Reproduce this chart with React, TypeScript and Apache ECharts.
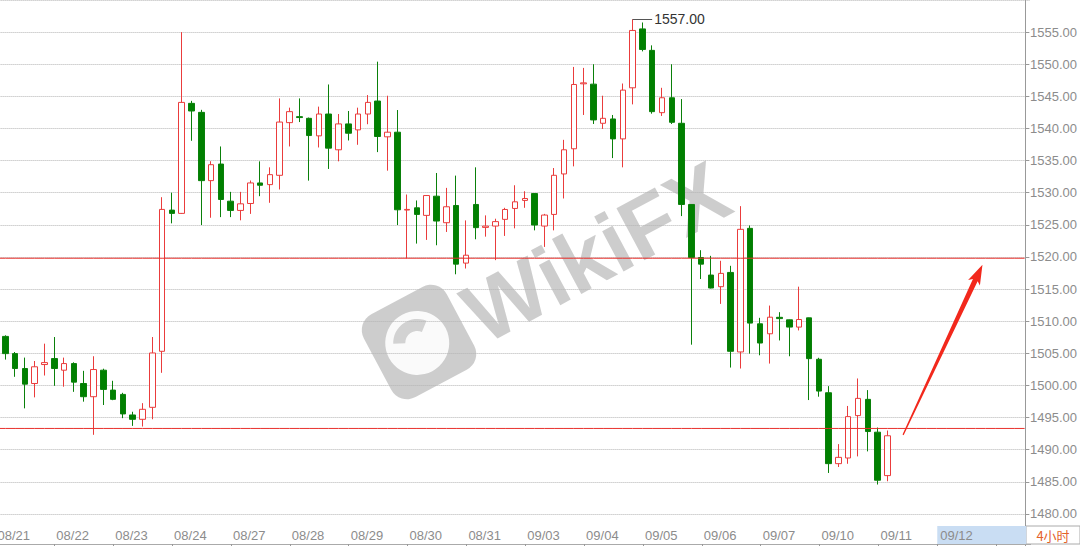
import React, { useEffect, useRef } from "react";
import * as echarts from "echarts";

// ---------- data ----------
const days = [
  "08/21", "08/22", "08/23", "08/24", "08/27", "08/28", "08/29", "08/30", "08/31",
  "09/03", "09/04", "09/05", "09/06", "09/07", "09/10", "09/11", "09/12", "09/13",
];
const slotHours = ["00", "04", "08", "12", "16", "20"];
const SLOT_COUNT = 106; // 4h slots on the axis
const FIRST_CANDLE_SLOT = 1; // first 08/21 slot is off-screen
const hiddenDayLabels = ["09/13"];
const futureDay = "09/12";

const opens = [
  1507.63, 1504.95, 1502.63, 1500.3, 1503.25, 1504.18, 1502.37, 1503.4, 1500.3, 1498.24,
  1502.37, 1499.27, 1498.6, 1495.4, 1494.72, 1496.59, 1505.31, 1527.29, 1526.78, 1543.91,
  1542.51, 1531.88, 1534.46, 1528.68, 1527.24, 1528.32, 1531.52, 1531.26, 1532.71, 1540.91,
  1541.84, 1541.58, 1538.85, 1542.25, 1536.68, 1540.71, 1539.78, 1542.25, 1544.27, 1538.7,
  1539.42, 1527.3, 1527.65, 1526.47, 1529.46, 1525.33, 1528.01, 1519.04, 1528.17, 1524.6,
  1524.81, 1525.85, 1527.55, 1528.8, 1529.87, 1524.81, 1526.62, 1532.92, 1536.84, 1546.95,
  1546.9, 1540.81, 1541.48, 1538.38, 1546.33, 1555.5, 1552.16, 1542.46, 1544.78, 1540.81,
  1528.17, 1519.91, 1517.18, 1515.37, 1517.59, 1505.21, 1524.45, 1509.59, 1508.04, 1510.6,
  1510.21, 1509.08, 1510.52, 1504.07, 1498.86, 1487.82, 1488.7, 1495.3, 1497.83, 1492.72,
  1485.96,
];
const closes = [
  1504.95, 1502.63, 1500.2, 1502.9, 1503.55, 1502.63, 1503.4, 1500.51, 1498.24, 1502.47,
  1499.38, 1497.83, 1495.56, 1494.72, 1496.28, 1505.05, 1527.4, 1526.78, 1544.06, 1542.72,
  1531.88, 1534.36, 1528.94, 1527.24, 1528.27, 1531.52, 1531.16, 1532.81, 1541.0, 1542.62,
  1541.7, 1538.9, 1542.25, 1536.94, 1540.71, 1539.26, 1542.25, 1544.06, 1538.75, 1539.42,
  1527.34, 1527.4, 1526.62, 1529.56, 1525.59, 1527.81, 1518.88, 1520.27, 1524.56, 1524.8,
  1525.5, 1527.39, 1528.58, 1529.1, 1524.97, 1526.52, 1532.71, 1536.68, 1546.85, 1547.1,
  1541.33, 1541.58, 1538.38, 1545.97, 1555.26, 1552.3, 1542.62, 1544.78, 1540.96, 1528.17,
  1519.91, 1518.88, 1515.16, 1517.44, 1505.31, 1524.3, 1509.7, 1506.6, 1510.62, 1510.4,
  1509.08, 1510.26, 1504.17, 1499.12, 1487.82, 1488.8, 1495.14, 1497.98, 1492.82, 1485.24,
  1492.16,
];
const lows = [
  1504.02, 1501.34, 1496.43, 1498.14, 1501.54, 1499.94, 1499.8, 1499.0, 1497.47, 1492.31,
  1496.95, 1497.7, 1494.9, 1493.7, 1493.6, 1494.73, 1501.96, 1525.23, 1526.7, 1538.08,
  1524.97, 1526.1, 1526.2, 1526.2, 1525.7, 1526.7, 1529.46, 1528.43, 1530.5, 1537.2,
  1541.0, 1531.88, 1537.04, 1533.7, 1534.88, 1538.13, 1537.46, 1540.66, 1536.32, 1533.43,
  1524.97, 1519.76, 1522.08, 1522.65, 1521.82, 1523.89, 1517.3, 1518.2, 1522.75, 1523.16,
  1519.5, 1523.27, 1524.45, 1527.65, 1524.14, 1521.56, 1524.14, 1529.1, 1534.1, 1542.1,
  1540.7, 1539.93, 1535.39, 1533.95, 1543.75, 1552.0, 1542.3, 1541.95, 1540.7, 1526.36,
  1506.34, 1516.56, 1515.1, 1512.69, 1502.78, 1502.63, 1504.95, 1504.69, 1503.4, 1507.0,
  1504.54, 1508.56, 1497.72, 1498.24, 1486.37, 1487.3, 1487.8, 1488.95, 1489.73, 1484.57,
  1485.08,
];
const highs = [
  1507.8, 1505.2, 1504.33, 1503.8, 1506.5, 1507.53, 1504.33, 1503.6, 1502.27, 1504.54,
  1502.6, 1500.72, 1498.85, 1495.9, 1497.24, 1507.53, 1529.3, 1530.0, 1555.0, 1544.3,
  1542.9, 1534.9, 1537.2, 1530.13, 1530.13, 1531.9, 1534.88, 1533.95, 1544.68, 1543.24,
  1544.68, 1541.7, 1543.4, 1546.85, 1542.25, 1542.72, 1543.24, 1545.2, 1550.4, 1545.1,
  1542.87, 1529.72, 1528.79, 1529.6, 1533.07, 1530.75, 1532.66, 1525.69, 1533.95, 1526.47,
  1525.95, 1527.65, 1531.16, 1530.23, 1529.9, 1526.7, 1533.84, 1538.23, 1549.58, 1549.43,
  1550.0, 1545.1, 1542.1, 1547.0, 1557.0, 1556.5, 1552.94, 1546.33, 1550.0, 1544.58,
  1528.2, 1521.05, 1520.17, 1519.4, 1518.62, 1527.91, 1524.9, 1510.52, 1512.43, 1511.4,
  1510.25, 1515.37, 1510.55, 1504.3, 1499.89, 1490.86, 1496.8, 1501.08, 1499.27, 1493.44,
  1492.98,
];

const yMin = 1475;
const yMax = 1560;
const yStep = 5;
const supportLevel = 1493.3;
const resistanceLevel = 1519.8;
const lastPrice = 1492.16;
const arrowFrom = [92.6, 1492.3]; // [slot, price]
const arrowTo = [100.7, 1518.8];
const periodLabel = "4小时";

// ---------- layout constants ----------
// The chart canvas is shifted 10px left of the page so that the
// partly hidden first slot of 08/21 can sit off-screen.
const SHIFT = 10;
const SLOT_W = 9.81;
const GRID_LEFT = -9.4 + SHIFT;
const GRID_W = SLOT_COUNT * SLOT_W;
const PX_PER_UNIT = 6.46;
const Y_OF_1555 = 30;
const GRID_TOP = Y_OF_1555 - (yMax - 1555) * PX_PER_UNIT;
const GRID_H = (yMax - yMin) * PX_PER_UNIT;

const FONT = "'Liberation Sans', Arial, sans-serif";
const RED = "#e8302c";

export default function App() {
  const ref = useRef<HTMLDivElement>(null);

  useEffect(() => {
    if (!ref.current) return;
    const chart = echarts.init(ref.current, undefined, {
      renderer: "svg",
      width: 1080 + SHIFT,
      height: 546,
    });

    const categories = days
      .flatMap((d) => slotHours.map((h) => `${d} ${h}`))
      .slice(0, SLOT_COUNT);

    const candleData = opens.map((o, i) => [i + FIRST_CANDLE_SLOT, o, closes[i], lows[i], highs[i]]);

    const peakHigh = Math.max(...highs);
    const peakSlot = highs.indexOf(peakHigh) + FIRST_CANDLE_SLOT;

    const isDayStart = (index: number) => index % slotHours.length === 0;

    const levelSeries = (value: number) => ({
      type: "line",
      xAxisIndex: 0,
      yAxisIndex: 0,
      data: categories.map(() => value),
      symbol: "none",
      silent: true,
      clip: false,
      lineStyle: { color: RED, width: 1, type: "solid" },
      z: 4,
    });

    const option: any = {
      animation: false,
      backgroundColor: "#ffffff",
      grid: [
        { left: GRID_LEFT, top: GRID_TOP, width: GRID_W, height: GRID_H, containLabel: false },
        { left: GRID_LEFT, top: 526, width: GRID_W, height: 18, containLabel: false },
      ],
      xAxis: [
        {
          type: "category",
          gridIndex: 0,
          data: categories,
          boundaryGap: true,
          show: false,
        },
        {
          type: "category",
          gridIndex: 1,
          data: categories,
          position: "top",
          boundaryGap: true,
          axisLine: { show: true, lineStyle: { color: "#999999", width: 1 } },
          axisTick: {
            show: true,
            inside: true,
            length: 4,
            alignWithLabel: true,
            interval: (index: number) => isDayStart(index),
            lineStyle: { color: "#999999" },
          },
          axisLabel: {
            inside: true,
            align: "left",
            margin: 0,
            lineHeight: 18,
            color: "#8c8c8c",
            fontSize: 13,
            fontFamily: FONT,
            interval: (index: number) =>
              isDayStart(index) && !hiddenDayLabels.includes(days[index / slotHours.length]),
            formatter: (value: string) => {
              const d = value.split(" ")[0];
              return d === futureDay ? `{hl|${d}}` : `{n|${d}}`;
            },
            rich: {
              n: { color: "#8c8c8c", fontSize: 13, fontFamily: FONT, lineHeight: 18, padding: [0, 0, 0, 2] },
              hl: {
                color: "#8c8c8c",
                fontSize: 13,
                fontFamily: FONT,
                lineHeight: 18,
                height: 18,
                width: 86,
                padding: [0, 0, 0, 3],
                backgroundColor: "#c9ddf3",
              },
            },
          },
          splitLine: { show: false },
        },
        {
          type: "category",
          gridIndex: 1,
          data: categories,
          position: "bottom",
          axisLine: { show: true, lineStyle: { color: "#aaaaaa", width: 1 } },
          axisTick: { show: false },
          axisLabel: { show: false },
          splitLine: { show: false },
        },
      ],
      yAxis: [
        {
          type: "value",
          gridIndex: 0,
          position: "right",
          offset: -4.5,
          min: yMin,
          max: yMax,
          interval: yStep,
          axisLine: { show: true, lineStyle: { color: "#999999", width: 1 } },
          axisTick: { show: true, length: 4, lineStyle: { color: "#999999" } },
          axisLabel: {
            show: true,
            margin: 5,
            color: "#8c8c8c",
            fontSize: 13,
            fontFamily: FONT,
            showMinLabel: false,
            showMaxLabel: false,
            formatter: (v: number) => v.toFixed(2),
          },
          splitLine: { show: true, lineStyle: { color: "#b4b4b4", type: "dotted", width: 1 } },
        },
        {
          type: "value",
          gridIndex: 1,
          show: false,
          min: 0,
          max: 1,
          splitLine: { show: false },
        },
      ],
      series: [
        {
          type: "candlestick",
          xAxisIndex: 0,
          yAxisIndex: 0,
          data: candleData,
          encode: { x: 0, y: [1, 2, 3, 4] },
          barWidth: 6,
          itemStyle: {
            color: "#ffffff",
            color0: "#008000",
            borderColor: "#ea3c3c",
            borderColor0: "#0a800a",
            borderWidth: 1,
          },
          markLine: {
            silent: true,
            symbol: ["none", "none"],
            animation: false,
            data: [
              {
                yAxis: lastPrice,
                lineStyle: { opacity: 0, width: 0 },
                label: {
                  show: true,
                  position: "end",
                  distance: -3,
                  formatter: lastPrice.toFixed(2),
                  color: "#e8322f",
                  fontSize: 13,
                  fontFamily: FONT,
                  backgroundColor: "#fff3f0",
                  padding: [1, 1, 1, 1],
                },
              },
              [
                {
                  coord: [peakSlot, peakHigh],
                  lineStyle: { color: "#555555", width: 1, type: "solid" },
                  label: {
                    show: true,
                    position: "end",
                    distance: 2,
                    formatter: peakHigh.toFixed(2),
                    color: "#333333",
                    fontSize: 14,
                    fontFamily: FONT,
                  },
                },
                { coord: [peakSlot + 2, peakHigh] },
              ],
            ],
          },
          z: 2,
        },
        levelSeries(resistanceLevel),
        levelSeries(supportLevel),
        {
          type: "custom",
          xAxisIndex: 0,
          yAxisIndex: 0,
          clip: false,
          silent: true,
          z: 5,
          data: [[Math.floor(arrowFrom[0]), arrowFrom[1]]],
          renderItem: (_params: any, api: any) => {
            const at = (xf: number, y: number) => {
              const i = Math.floor(xf);
              const a = api.coord([i, y]);
              const b = api.coord([i + 1, y]);
              const t = xf - i;
              return [a[0] + (b[0] - a[0]) * t, a[1]];
            };
            const p0 = at(arrowFrom[0], arrowFrom[1]);
            const p1 = at(arrowTo[0], arrowTo[1]);
            const dx = p1[0] - p0[0];
            const dy = p1[1] - p0[1];
            const L = Math.hypot(dx, dy);
            const ux = dx / L;
            const uy = dy / L;
            const nx = -uy;
            const ny = ux;
            const headLen = 20;
            const bx = p1[0] - ux * headLen;
            const by = p1[1] - uy * headLen;
            const off = (x: number, y: number, w: number) => [x + nx * w, y + ny * w];
            const points = [
              off(p0[0], p0[1], 0.6),
              off(bx + ux * 3, by + uy * 3, 2.6),
              off(bx, by, 6.5),
              p1,
              off(bx, by, -6.5),
              off(bx + ux * 3, by + uy * 3, -2.6),
              off(p0[0], p0[1], -0.6),
            ];
            return { type: "polygon", shape: { points }, style: { fill: "#f2281c" } };
          },
        },
      ],
      graphic: [
        {
          type: "group",
          silent: true,
          z: 100,
          children: [
            {
              type: "group",
              x: 419 + SHIFT,
              y: 342,
              rotation: 0.49,
              children: [
                {
                  type: "rect",
                  shape: { x: -47, y: -47, width: 94, height: 94, r: 18 },
                  style: { fill: "rgba(135,135,135,0.42)" },
                },
                {
                  type: "circle",
                  shape: { cx: -2, cy: 0, r: 32 },
                  style: { fill: "rgba(255,255,255,0.9)" },
                },
                {
                  type: "sector",
                  shape: { cx: -2, cy: 0, r0: 12, r: 24, startAngle: 3.6, endAngle: 5.6 },
                  style: { fill: "rgba(135,135,135,0.35)" },
                },
              ],
            },
            {
              type: "text",
              x: 596 + SHIFT,
              y: 252,
              rotation: 0.49,
              style: {
                text: "WikiFX",
                fontSize: 86,
                fontWeight: "bold",
                fontFamily: FONT,
                fill: "rgba(135,135,135,0.42)",
                align: "center",
                verticalAlign: "middle",
              },
            },
          ],
        },
        {
          type: "rect",
          silent: true,
          shape: { x: 1026 + SHIFT, y: 526, width: 54, height: 18 },
          style: { fill: "none", stroke: "#aaaaaa", lineWidth: 1 },
        },
        {
          type: "text",
          silent: true,
          x: 1053 + SHIFT,
          y: 535,
          style: {
            text: periodLabel,
            fontSize: 13,
            fontFamily: "'Noto Sans CJK SC', sans-serif",
            fill: "#e4622a",
            align: "center",
            verticalAlign: "middle",
          },
        },
      ],
    };

    chart.setOption(option);
    return () => chart.dispose();
  }, []);

  return (
    <div style={{ position: "fixed", left: 0, top: 0, width: 1080, height: 546, overflow: "hidden", background: "#fff" }}>
      <div
        ref={ref}
        style={{ position: "absolute", left: -SHIFT, top: 0, width: 1080 + SHIFT, height: 546 }}
      />
    </div>
  );
}
